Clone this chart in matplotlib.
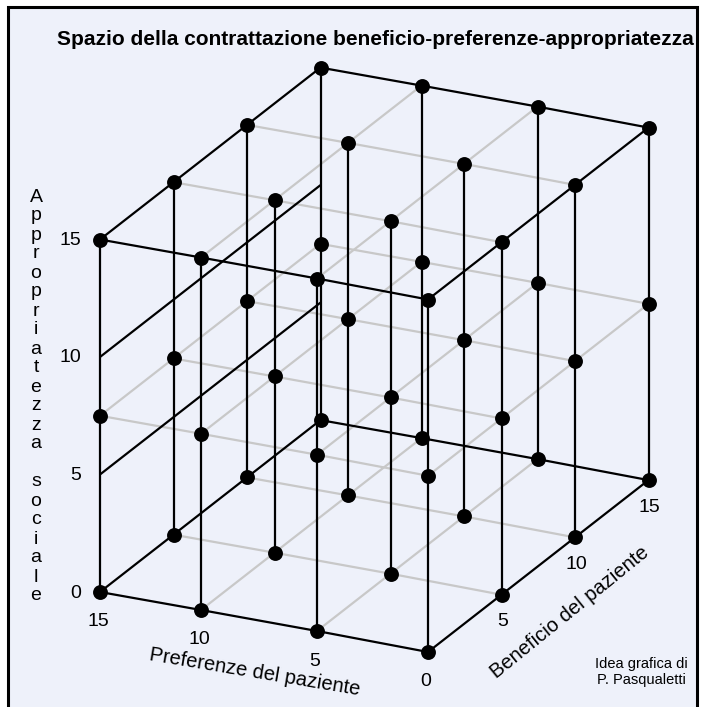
import numpy as np
import matplotlib.pyplot as plt
from matplotlib.patches import Rectangle

plt.rcParams['font.family'] = ['Liberation Sans', 'DejaVu Sans']

title = "Spazio della contrattazione beneficio-preferenze-appropriatezza"
pref_levels = [0, 5, 10, 15]       # Preferenze del paziente
benef_levels = [0, 5, 10, 15]      # Beneficio del paziente
approp_layers = [0, 7.5, 15]       # Appropriatezza sociale, layers with dots
approp_ticks = [0, 5, 10, 15]
approp_guides = [5, 10]            # black guides on the left face
pref_label = "Preferenze del paziente"
benef_label = "Beneficio del paziente"
approp_label = ["Appropriatezza", "sociale"]
credit = "Idea grafica di\nP. Pasqualetti"

# hand-drawn oblique projection of (pref, benef, approp) to pixels;
# the preferenze axis is not spaced quite evenly in the drawing
ORIGIN = (428.0, 652.0)
P_KNOTS = [0, 5, 10, 15]
P_DX = [0, -111, -227, -328]
P_DY = [0, -21, -42, -60]
B_VEC = (14.7, -11.46)
A_VEC = (0.0, -23.5)


def proj(p, b, a):
    x = ORIGIN[0] + np.interp(p, P_KNOTS, P_DX) + b * B_VEC[0] + a * A_VEC[0]
    y = ORIGIN[1] + np.interp(p, P_KNOTS, P_DY) + b * B_VEC[1] + a * A_VEC[1]
    return x, y


def seg(ax, p0, p1, **kw):
    x0, y0 = proj(*p0)
    x1, y1 = proj(*p1)
    ax.plot([x0, x1], [y0, y1], solid_capstyle='butt', **kw)


def polyline(ax, pts, **kw):
    xy = [proj(*pt) for pt in pts]
    ax.plot([q[0] for q in xy], [q[1] for q in xy], solid_capstyle='butt',
            **kw)


fig = plt.figure(figsize=(7.05, 7.07), dpi=100)
fig.patch.set_facecolor('white')
ax = fig.add_axes([0, 0, 1, 1])
ax.set_xlim(0, 705)
ax.set_ylim(707, 0)
ax.axis('off')

ax.add_patch(Rectangle((8, 7), 689, 710, facecolor='#eef1fa',
                       edgecolor='black', lw=2.2, zorder=0))

pmin, pmax = min(pref_levels), max(pref_levels)
bmin, bmax = min(benef_levels), max(benef_levels)
amin, amax = min(approp_layers), max(approp_layers)
gray = dict(color='#c8c8c8', lw=1.6, zorder=1)
black = dict(color='black', lw=1.6, zorder=2)

for a in approp_layers:
    outer = a in (amin, amax)
    for b in benef_levels:
        style = black if outer and b in (bmin, bmax) else gray
        polyline(ax, [(p, b, a) for p in pref_levels], **style)
    for p in pref_levels:
        style = black if outer and p in (pmin, pmax) else gray
        seg(ax, (p, bmin, a), (p, bmax, a), **style)

for p in pref_levels:
    for b in benef_levels:
        seg(ax, (p, b, amin), (p, b, amax), **black)

for a in approp_guides:
    seg(ax, (pmax, bmin, a), (pmax, bmax, a), **black)

xs, ys = [], []
for a in approp_layers:
    for p in pref_levels:
        for b in benef_levels:
            x, y = proj(p, b, a)
            xs.append(x)
            ys.append(y)
ax.scatter(xs, ys, s=115, color='black', zorder=3, linewidths=0)

# tick labels
for a in approp_ticks:
    x, y = proj(pmax, bmin, a)
    ax.text(x - 19, y + 1, str(a), ha='right', va='center', fontsize=14)
for p in pref_levels:
    x, y = proj(p, bmin, amin)
    ax.text(x - 2, y + 30, str(p), ha='center', va='center', fontsize=14)
for b in benef_levels[1:]:
    x, y = proj(pmin, b, amin)
    ax.text(x + 1, y + 27, str(b), ha='center', va='center', fontsize=14)

# axis titles
ax.text(255, 672, pref_label, rotation=-9.5, ha='center', va='center',
        fontsize=14.5, rotation_mode='anchor')
ax.text(570, 612, benef_label, rotation=39, ha='center', va='center',
        fontsize=14.5, rotation_mode='anchor')

y = 197
for word in approp_label:
    for ch in word:
        ax.text(36, y, ch, ha='center', va='center', fontsize=14)
        y += 19
    y += 19

ax.text(641, 672, credit, ha='center', va='center', fontsize=10.5,
        linespacing=1.2)
ax.text(375, 45, title, ha='center', va='baseline', fontsize=15,
        fontweight='bold')

fig.savefig('out.png', dpi=100)
